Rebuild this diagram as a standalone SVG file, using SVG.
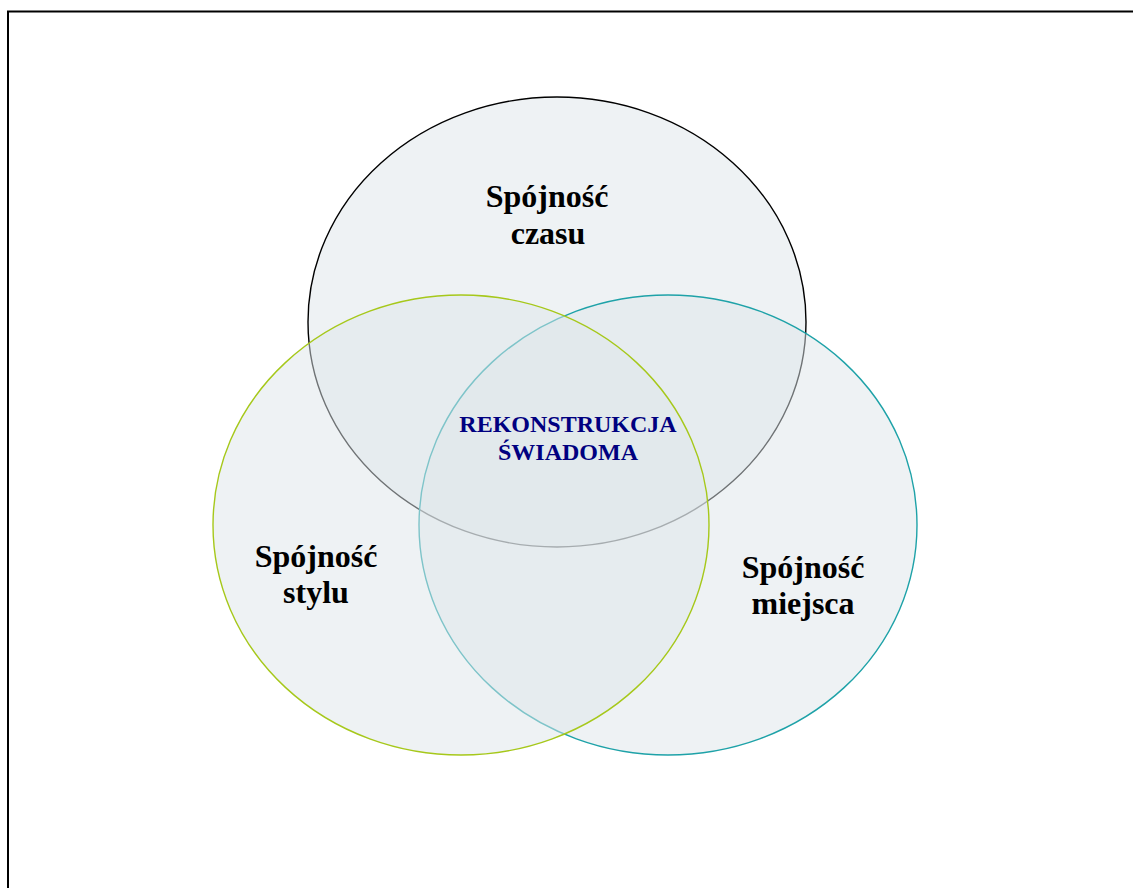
<svg xmlns="http://www.w3.org/2000/svg" width="1133" height="888" viewBox="0 0 1133 888">
<style>
.c{fill:#dde6e9;fill-opacity:0.5;stroke-width:1.4}
.t{font-family:"Liberation Serif","Times New Roman",serif;font-weight:bold;font-size:32px;fill:#000;text-anchor:middle}
.m{font-family:"Liberation Serif","Times New Roman",serif;font-weight:bold;font-size:24px;fill:#000080;text-anchor:middle}
</style>
<rect x="0" y="0" width="1133" height="888" fill="#fff"/>
<rect x="8" y="11.5" width="1140" height="900" fill="none" stroke="#000" stroke-width="2"/>
<g id="czasu">
<ellipse class="c" cx="557" cy="322" rx="249" ry="225" stroke="#000"/>
<text class="t" x="547" y="207">Spójność</text>
<text class="t" x="548" y="244">czasu</text>
</g>
<g id="miejsca">
<ellipse class="c" cx="668" cy="525" rx="249" ry="230" stroke="#1ea2a8"/>
<text class="t" x="803" y="578">Spójność</text>
<text class="t" x="803" y="614">miejsca</text>
</g>
<g id="stylu">
<ellipse class="c" cx="461" cy="525" rx="248" ry="230" stroke="#a6c81a"/>
<text class="t" x="316" y="567">Spójność</text>
<text class="t" x="316" y="603">stylu</text>
</g>
<g id="rekonstrukcja">
<text class="m" x="568" y="432">REKONSTRUKCJA</text>
<text class="m" x="568" y="460">ŚWIADOMA</text>
</g>
<g id="connectors"/>
</svg>
